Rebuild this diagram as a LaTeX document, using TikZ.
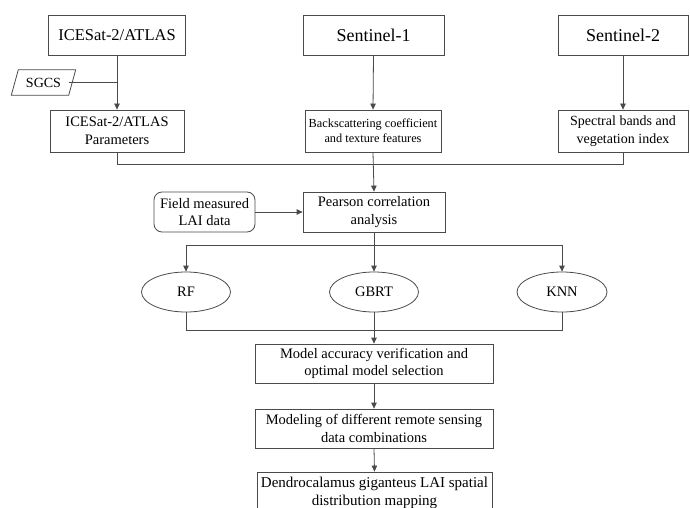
\documentclass[tikz,border=0pt]{standalone}
\usepackage{fontspec}
\setmainfont{Liberation Serif}
\usetikzlibrary{arrows.meta,shapes.geometric}
\definecolor{linec}{HTML}{4A4A4A}
\tikzset{
  box/.style={draw=linec,line width=0.8pt,rectangle,align=center,inner sep=1pt,text=black},
  oval/.style={draw=linec,line width=0.8pt,ellipse,inner sep=0pt,text=black,minimum width=89pt,minimum height=40pt},
  conn/.style={draw=linec,line width=0.8pt},
  arr/.style={conn,-{Triangle[length=6pt,width=5.5pt]}},
}
\begin{document}
\begin{tikzpicture}[x=1pt,y=-1pt]
\useasboundingbox (0,0) rectangle (690,508);
\clip (0,0) rectangle (690,508);
\fill[white] (0,0) rectangle (690,508);
% top row
\node[box,minimum width=137pt,minimum height=40pt,font=\fontsize{16.5}{19}\selectfont] (ice) at (117,35) {ICESat-2/ATLAS};
\node[box,minimum width=141pt,minimum height=40pt,font=\fontsize{18}{21}\selectfont] (s1) at (373.5,35) {Sentinel-1};
\node[box,minimum width=130pt,minimum height=40pt,font=\fontsize{18}{21}\selectfont] (s2) at (623,35) {Sentinel-2};
% second row
\node[box,minimum width=134pt,minimum height=42pt,font=\fontsize{14.5}{17.5}\selectfont] (icep) at (117,131) {ICESat-2/ATLAS\\Parameters};
\node[box,minimum width=136pt,minimum height=42pt,font=\fontsize{12.3}{15}\selectfont] (bsc) at (373,131) {Backscattering coefficient\\and texture features};
\node[box,minimum width=130pt,minimum height=42pt,font=\fontsize{14}{17.5}\selectfont] (spec) at (623,131) {Spectral bands and\\vegetation index};
% SGCS (parallelogram)
\node[inner sep=0pt,minimum width=57pt,minimum height=25pt,font=\fontsize{14}{16}\selectfont] (sgcs) at (43.5,82.5) {SGCS};
\draw[draw=linec,line width=0.8pt]
  ([xshift=-3.5pt]sgcs.south west) -- ([xshift=-3.5pt]sgcs.south east) --
  ([xshift=3.5pt]sgcs.north east) -- ([xshift=3.5pt]sgcs.north west) -- cycle;
\coordinate (jn) at (ice.south |- sgcs.east);
% Pearson and field
\node[box,minimum width=142pt,minimum height=40pt,font=\fontsize{14.5}{17.5}\selectfont] (pear) at (374,212) {Pearson correlation\\analysis};
\node[box,rounded corners=8pt,minimum width=101pt,minimum height=40pt,font=\fontsize{14.5}{17.5}\selectfont] (field) at (204.5,212) {Field measured\\LAI data};
% models
\node[oval,font=\fontsize{14.5}{17}\selectfont] (rf) at (186,292) {RF};
\node[oval,font=\fontsize{14.5}{17}\selectfont] (gbrt) at (374,292) {GBRT};
\node[oval,minimum width=90pt,font=\fontsize{14.5}{17}\selectfont] (knn) at (562,292) {KNN};
% lower boxes
\node[box,minimum width=238pt,minimum height=39pt,font=\fontsize{14.5}{17.5}\selectfont] (acc) at (374,363.5) {Model accuracy verification and\\optimal model selection};
\node[box,minimum width=238pt,minimum height=39pt,font=\fontsize{14.5}{17.5}\selectfont] (mod) at (374,428.5) {Modeling of different remote sensing\\data combinations};
\node[box,minimum width=235pt,minimum height=42pt,font=\fontsize{15}{17.5}\selectfont] (den) at (374.5,493) {Dendrocalamus giganteus LAI spatial\\distribution mapping};
% connectors
\draw[arr] (ice.south) -- (icep.north);
\draw[conn] ([xshift=-3.5pt]sgcs.east) -- (jn);
\draw[arr] (s1.south) -- (bsc.north);
\draw[arr] (s2.south) -- (spec.north);
\coordinate (b1) at (0,164);
\draw[conn] (icep.south) -- (icep.south |- b1) -- (spec.south |- b1) -- (spec.south);
\draw[arr] (bsc.south) -- (pear.north);
\draw[arr] (field.east) -- (pear.west);
\coordinate (b2) at (0,245);
\draw[conn] (pear.south) -- (pear.south |- b2);
\draw[conn] (rf.north |- b2) -- (knn.north |- b2);
\draw[arr] (rf.north |- b2) -- (rf.north);
\draw[arr] (gbrt.north |- b2) -- (gbrt.north);
\draw[arr] (knn.north |- b2) -- (knn.north);
\coordinate (b3) at (0,330);
\draw[conn] (rf.south) -- (rf.south |- b3) -- (knn.south |- b3) -- (knn.south);
\draw[conn] (gbrt.south) -- (gbrt.south |- b3);
\draw[arr] (acc.north |- b3) -- (acc.north);
\draw[arr] (acc.south) -- (mod.north);
\draw[arr] (mod.south) -- (den.north);
\end{tikzpicture}
\end{document}
